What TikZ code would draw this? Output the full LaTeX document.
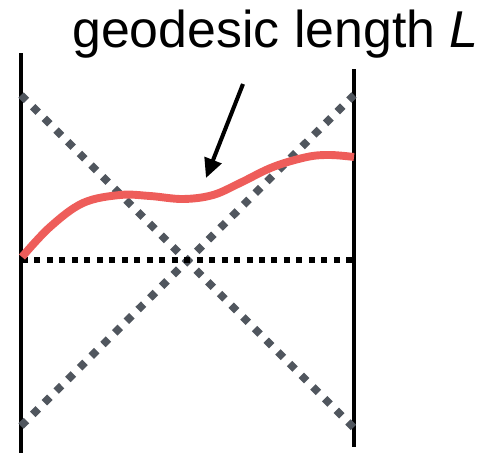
\documentclass[tikz,border=0pt]{standalone}
\usepackage{fontspec}
\setmainfont{Liberation Sans}
\usetikzlibrary{arrows.meta}
\definecolor{cred}{HTML}{EE5D5A}
\definecolor{cgray}{HTML}{50565E}

\begin{document}
\begin{tikzpicture}[x=0.02cm, y=-0.02cm,
    wall/.style={line width=2.3pt, black},
    lightray/.style={cgray, line width=4.4pt, dash pattern=on 4.4pt off 5pt},
    slice/.style={black, line width=3.4pt, dash pattern=on 3.4pt off 3.7pt}]
  \useasboundingbox (0,0) rectangle (480,453);
  % boundaries
  \coordinate (lt) at (21,53);
  \coordinate (lb) at (21,453);
  \coordinate (rt) at (354,69);
  \coordinate (rb) at (354,447);
  \draw[wall] (lt) -- (lb);
  \draw[wall] (rt) -- (rb);
  % light rays and time slice
  \coordinate (ray1a) at (21,95);
  \coordinate (ray1b) at (354,428);
  \coordinate (ray2a) at (21,426);
  \coordinate (ray2b) at (354,95);
  \draw[lightray] (ray1a) -- (ray1b);
  \draw[lightray] (ray2a) -- (ray2b);
  \coordinate (sl) at (22,260);
  \coordinate (sr) at (352,260);
  \draw[slice] (sl) -- (sr);
  % geodesic
  \draw[cred, line width=4.5pt, line cap=butt] plot[smooth, tension=0.6] coordinates
    {(22,257) (50,227) (83,203) (120,195) (150,196) (183,199) (213,195) (240,183) (273,167) (307,157) (330,155) (354,157)};
  % label and arrow
  \node[anchor=base west, inner sep=0pt, font=\fontsize{29.5}{32}\selectfont] (label) at (72,47) {geodesic length \textit{L}};
  \coordinate (tail) at (243,84);
  \coordinate (tip) at (206,178);
  \draw[line width=2.3pt, -{Triangle[length=11pt, width=10pt]}] (tail) -- (tip);
\end{tikzpicture}
\end{document}
